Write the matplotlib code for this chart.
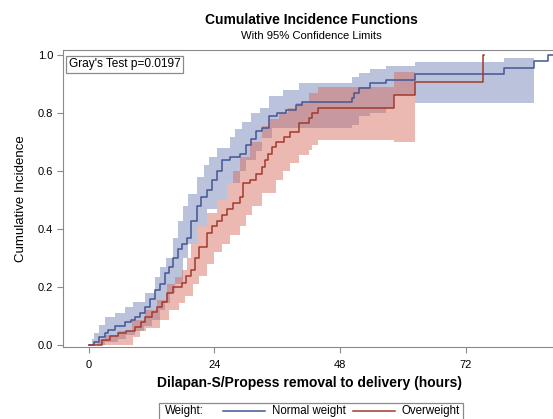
import numpy as np
import matplotlib
matplotlib.use("Agg")
import matplotlib.pyplot as plt
from matplotlib.lines import Line2D
from matplotlib.patches import Rectangle

plt.rcParams['font.family'] = ['Liberation Sans', 'DejaVu Sans']

# Normal weight: cumulative incidence step curve
nw_t = [0, 1.0, 2.0, 3.0, 3.6, 5.0, 6.9, 8.0, 8.8, 9.7, 10.7, 11.6, 12.6, 13.5,
        14.5, 15.3, 16.0, 17.0, 17.8, 18.7, 19.6, 20.6, 21.5, 22.5, 23.5, 24.4,
        25.5, 27.0, 28.8, 30.0, 31.0, 32.0, 33.0, 34.5, 36.0, 37.7, 39.6, 40.8,
        50.3, 50.7, 51.6, 53.8, 56.7, 62.4, 79.3, 85.0, 87.8, 89.5]
nw_y = [0, 0.010, 0.027, 0.040, 0.052, 0.065, 0.080, 0.088, 0.097, 0.11, 0.13,
        0.16, 0.19, 0.21, 0.25, 0.27, 0.30, 0.33, 0.35, 0.37, 0.43, 0.48, 0.51,
        0.535, 0.57, 0.60, 0.64, 0.65, 0.66, 0.69, 0.71, 0.74, 0.75, 0.79, 0.80,
        0.81, 0.83, 0.84, 0.852, 0.869, 0.887, 0.904, 0.917, 0.935, 0.958, 0.981,
        1.0, 1.0]

# Normal weight: 95% limits
nw_hi_t = [0.6, 1.0, 2.0, 3.0, 5.0, 6.9, 8.5, 10.7, 12.6, 13.5, 14.8, 16.0, 17.0,
           17.9, 19.0, 20.6, 22.0, 23.0, 24.4, 26.9, 28.0, 29.3, 31.0, 32.6, 34.5,
           37.0, 40.2, 50.3, 51.6, 53.8, 56.7, 62.4, 79.4, 85.0]
nw_hi = [0.02, 0.04, 0.07, 0.097, 0.11, 0.13, 0.15, 0.18, 0.235, 0.27, 0.30, 0.37,
         0.43, 0.48, 0.52, 0.58, 0.62, 0.65, 0.68, 0.72, 0.745, 0.77, 0.80, 0.82,
         0.86, 0.88, 0.904, 0.927, 0.94, 0.953, 0.965, 0.976, 0.992, 0.992]
nw_lo_t = [0.6, 3.0, 5.5, 7.0, 8.8, 10.5, 12.0, 13.5, 14.5, 15.5, 16.4, 17.9, 19.0,
           20.6, 22.5, 24.4, 26.3, 28.8, 30.0, 32.0, 33.0, 35.0, 50.3, 51.6, 53.8,
           56.7, 58.3, 62.4, 85.0]
nw_lo = [0.0, 0.01, 0.02, 0.035, 0.05, 0.065, 0.086, 0.12, 0.145, 0.18, 0.21, 0.30,
         0.35, 0.41, 0.47, 0.50, 0.56, 0.60, 0.64, 0.67, 0.715, 0.75, 0.76, 0.79,
         0.80, 0.82, 0.864, 0.837, 0.837]

# Overweight: cumulative incidence step curve
ow_t = [0, 1.7, 2.5, 4.0, 5.5, 7.0, 8.8, 10.0, 10.7, 12.0, 13.1, 14.0, 15.0, 16.0,
        17.7, 18.5, 19.6, 20.3, 21.1, 22.5, 23.6, 24.4, 25.5, 26.3, 27.5, 28.8,
        29.5, 30.7, 32.0, 33.0, 33.7, 34.3, 34.9, 35.8, 37.3, 38.5, 40.2, 42.1,
        42.7, 43.7, 58.3, 62.4, 75.3, 75.5]
ow_y = [0, 0.0, 0.017, 0.03, 0.04, 0.05, 0.063, 0.08, 0.097, 0.115, 0.13, 0.15,
        0.18, 0.20, 0.214, 0.24, 0.26, 0.30, 0.34, 0.387, 0.41, 0.43, 0.45, 0.47,
        0.49, 0.51, 0.56, 0.57, 0.59, 0.615, 0.64, 0.66, 0.684, 0.70, 0.72, 0.735,
        0.766, 0.783, 0.802, 0.817, 0.864, 0.91, 1.0, 1.0]

# Overweight: 95% limits
ow_hi_t = [1.7, 3.0, 5.5, 8.2, 10.7, 13.1, 15.0, 16.5, 17.7, 18.7, 19.6, 20.6,
           22.5, 24.4, 26.3, 27.5, 28.8, 30.7, 33.0, 34.5, 36.4, 38.0, 39.6, 42.1,
           43.7, 58.3, 62.4]
ow_hi = [0.02, 0.035, 0.05, 0.086, 0.12, 0.155, 0.21, 0.235, 0.26, 0.30, 0.35,
         0.41, 0.455, 0.50, 0.56, 0.60, 0.65, 0.70, 0.755, 0.78, 0.80, 0.82, 0.835,
         0.87, 0.892, 0.944, 0.944]
ow_lo_t = [1.7, 8.4, 9.7, 11.0, 13.5, 15.4, 17.3, 18.3, 19.8, 21.0, 22.5, 24.0,
           25.5, 27.0, 28.8, 30.0, 31.2, 33.0, 35.8, 37.0, 38.5, 40.2, 42.1, 42.7,
           43.7, 58.3, 62.4]
ow_lo = [0.0, 0.027, 0.05, 0.06, 0.086, 0.12, 0.145, 0.17, 0.21, 0.24, 0.28, 0.32,
         0.35, 0.38, 0.41, 0.45, 0.48, 0.525, 0.57, 0.60, 0.63, 0.656, 0.673, 0.69,
         0.708, 0.70, 0.70]

xticks = [0, 24, 48, 72]
yticks = [0.0, 0.2, 0.4, 0.6, 0.8, 1.0]

BLUE_LINE, BLUE_FILL = '#445694', '#6F7EB3'
RED_LINE, RED_FILL = '#A23A2E', '#D66A5A'
GRAY = '#8a8a8a'


def on_grid(t, v, grid):
    # value of a right-continuous step function at the grid times
    idx = np.searchsorted(t, grid, side='right') - 1
    return np.asarray(v)[np.clip(idx, 0, None)]


def band(ax, t_lo, lo, t_hi, hi, color):
    grid = np.union1d(t_lo, t_hi)
    ax.fill_between(grid, on_grid(t_lo, lo, grid), on_grid(t_hi, hi, grid),
                    step='post', color=color, alpha=0.47, lw=0)


fig = plt.figure(figsize=(5.53, 4.19), dpi=100)
ax = fig.add_axes([0.1148, 0.1718, 0.8902, 0.7089])

band(ax, nw_lo_t, nw_lo, nw_hi_t, nw_hi, BLUE_FILL)
band(ax, ow_lo_t, ow_lo, ow_hi_t, ow_hi, RED_FILL)
ax.step(nw_t, nw_y, where='post', color=BLUE_LINE, lw=1.1)
ax.step(ow_t, ow_y, where='post', color=RED_LINE, lw=1.1)

ax.set_xlim(-4.85, 89.2)
ax.set_ylim(-0.007, 1.019)
ax.set_xticks(xticks)
ax.set_yticks(yticks)
ax.set_yticklabels(['%.1f' % v for v in yticks])
for s in ax.spines.values():
    s.set_color(GRAY)
ax.tick_params(colors=GRAY, labelcolor='black', labelsize=8, length=4, width=0.8)
ax.tick_params(axis='x', pad=5)

ax.set_ylabel('Cumulative Incidence', fontsize=9.5, labelpad=8)
ax.set_xlabel('Dilapan-S/Propess removal to delivery (hours)', fontsize=10,
              fontweight='bold', labelpad=5)

fig.text(311 / 553, 1 - 20 / 419, 'Cumulative Incidence Functions', ha='center',
         va='center', fontsize=10, fontweight='bold')
fig.text(311 / 553, 1 - 36 / 419, 'With 95% Confidence Limits', ha='center',
         va='center', fontsize=8.1)

ax.text(0.011, 0.972, "Gray's Test p=0.0197", transform=ax.transAxes, fontsize=8.6,
        ha='left', va='top',
        bbox=dict(boxstyle='square,pad=0.22', fc='white', ec=GRAY, lw=0.9))

# legend row at the bottom (cut by the image edge like the original)
W, H = 553, 419
fig.patches.append(Rectangle((159 / W, -0.02), (463 - 159) / W, 0.02 + (419 - 403) / H,
                             transform=fig.transFigure, fill=False, ec=GRAY, lw=0.9))
ly = 1 - 411 / H
fig.text(165 / W, ly, 'Weight:', fontsize=8.3, va='center', ha='left')
fig.lines.append(Line2D([223 / W, 265 / W], [ly, ly], transform=fig.transFigure,
                        color=BLUE_LINE, lw=1.1))
fig.text(272 / W, ly, 'Normal weight', fontsize=8.3, va='center', ha='left')
fig.lines.append(Line2D([353 / W, 395 / W], [ly, ly], transform=fig.transFigure,
                        color=RED_LINE, lw=1.1))
fig.text(402 / W, ly, 'Overweight', fontsize=8.3, va='center', ha='left')

fig.savefig('out.png', dpi=100)
